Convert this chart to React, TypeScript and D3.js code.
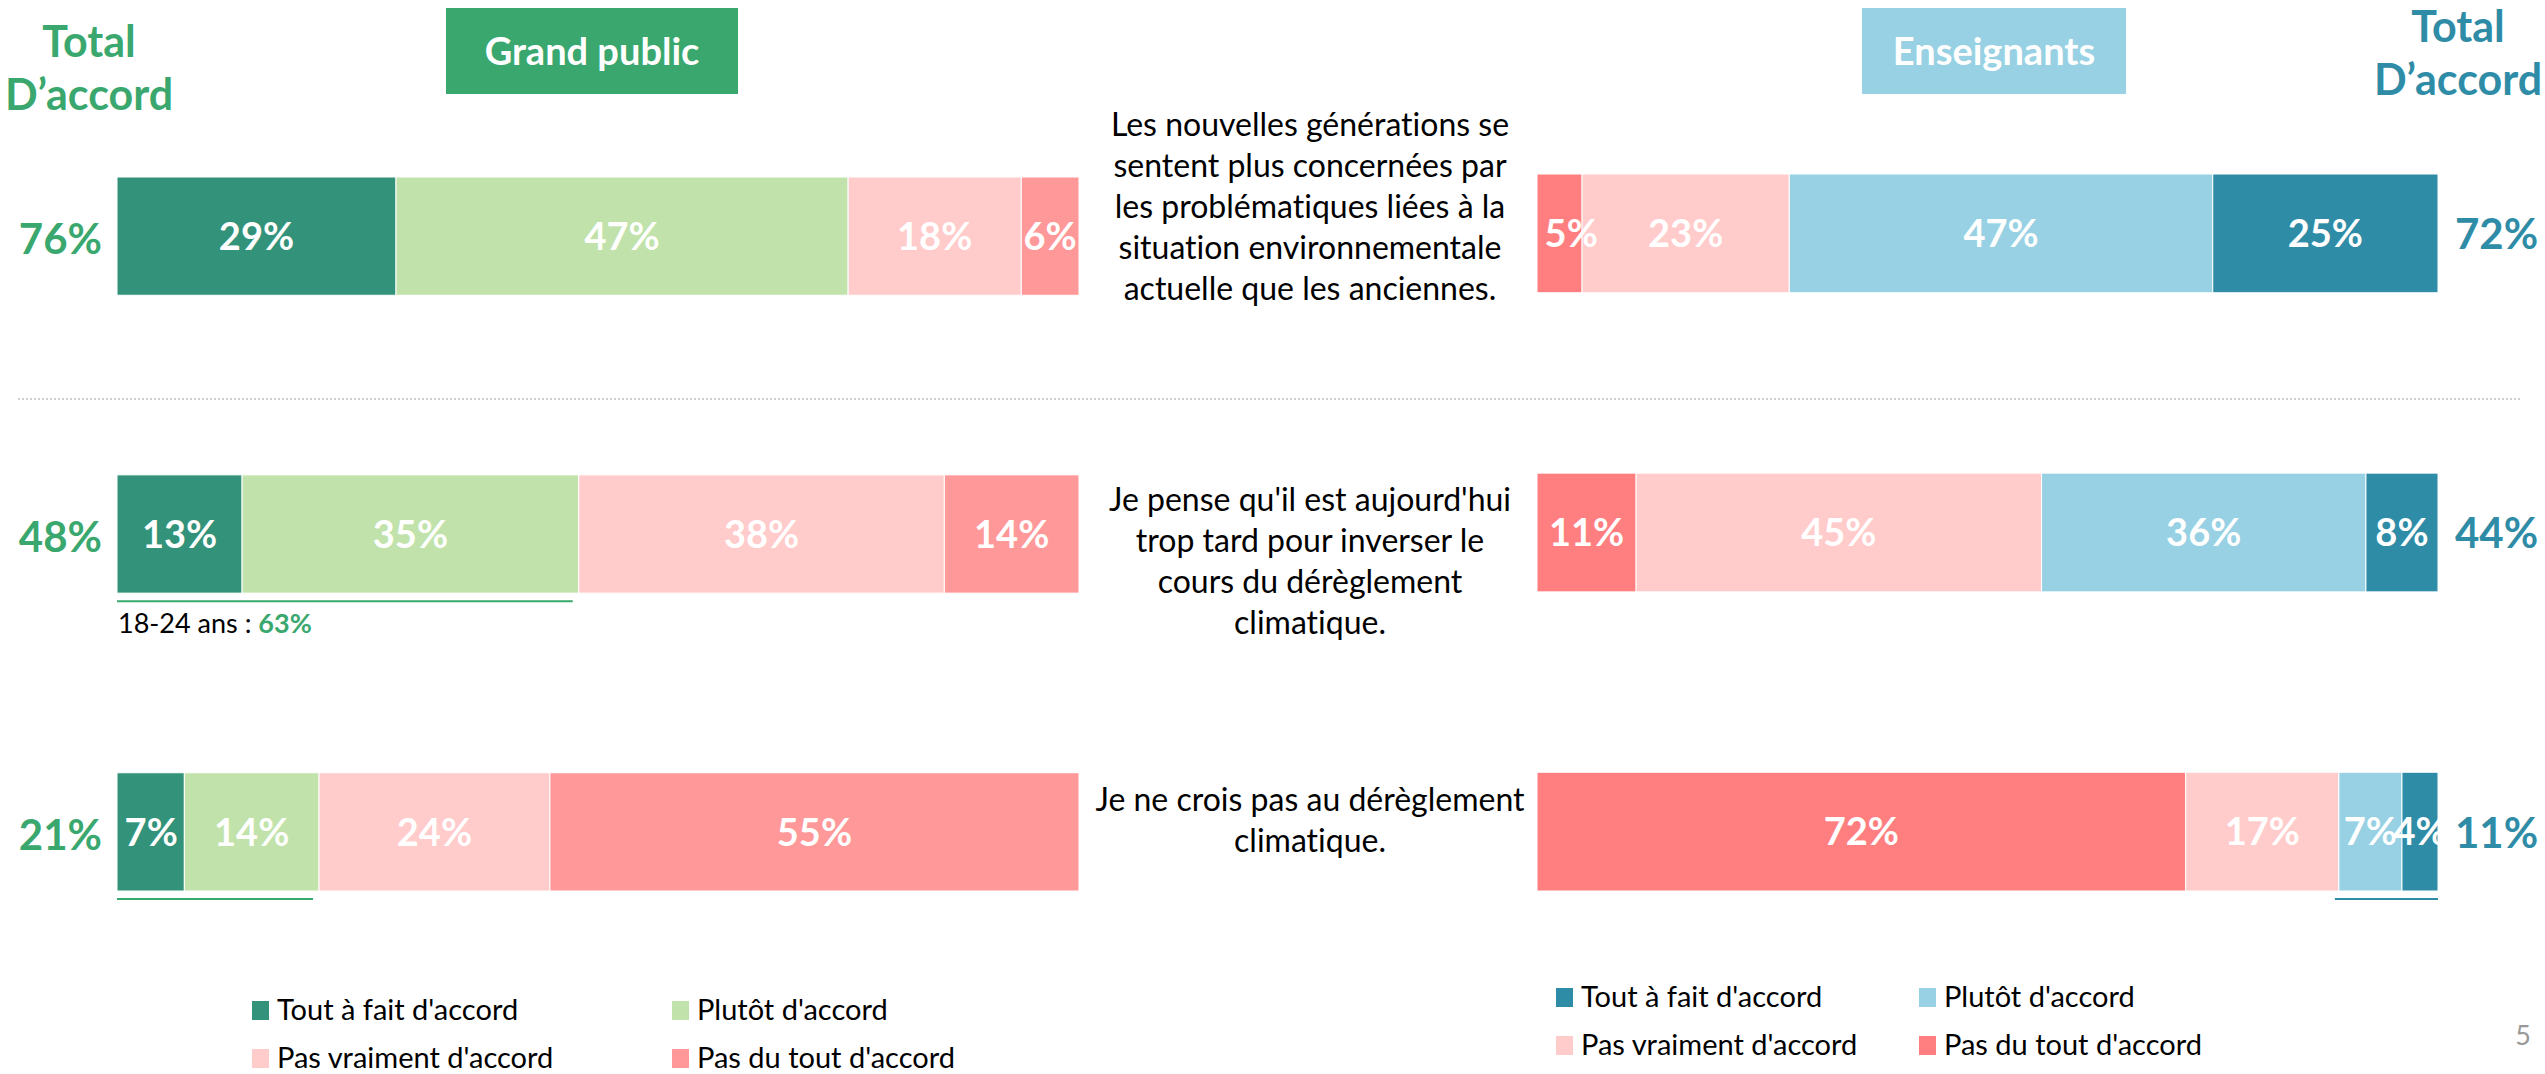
import React, { useEffect } from "react";
import * as d3 from "d3";

// ---------- DATA ----------
const questions = [
  ["Les nouvelles générations se", "sentent plus concernées par", "les problématiques liées à la", "situation environnementale", "actuelle que les anciennes."],
  ["Je pense qu'il est aujourd'hui", "trop tard pour inverser le", "cours du dérèglement", "climatique."],
  ["Je ne crois pas au dérèglement", "climatique."],
];
const questionIds = ["q1", "q2", "q3"];

// Grand public (left), order: Tout à fait, Plutôt, Pas vraiment, Pas du tout
const gpToutAFait = [29, 13, 7];
const gpPlutot = [47, 35, 14];
const gpPasVraiment = [18, 38, 24];
const gpPasDuTout = [6, 14, 55];
const gpTotal = [76, 48, 21];

// Enseignants (right), order: Pas du tout, Pas vraiment, Plutôt, Tout à fait
const ensPasDuTout = [5, 11, 72];
const ensPasVraiment = [23, 45, 17];
const ensPlutot = [47, 36, 7];
const ensToutAFait = [25, 8, 4];
const ensTotal = [72, 44, 11];

const legendLabels = ["Tout à fait d'accord", "Plutôt d'accord", "Pas vraiment d'accord", "Pas du tout d'accord"];
const gpUnderlineRows = [1, 2];
const ensUnderlineRows = [2];
const subgroupLabel = "18-24 ans : ";
const subgroupValue = "63%";

// ---------- STYLE ----------
const C = {
  green: "#3AA86E",
  darkGreen: "#32937A",
  lightGreen: "#C1E3AB",
  palePink: "#FFCBCB",
  salmon: "#FF9999",
  redPink: "#FF7F80",
  lightBlue: "#97D1E3",
  teal: "#2F8CA7",
};
const FONT = "Lato, 'Open Sans', sans-serif";
const LABEL_SIZE = 38;

export default function App() {
  useEffect(() => {
    document.body.style.margin = "0";
  }, []);

  const W = 2545, H = 1074;
  const xL = d3.scaleLinear().domain([0, 100]).range([117, 1079]);
  const xR = d3.scaleLinear().domain([0, 100]).range([1537, 2438]);
  const yL = d3.scaleBand().domain(questionIds).range([177, 891]).paddingInner(0.603);
  const yR = d3.scaleBand().domain(questionIds).range([174, 891]).paddingInner(0.603);

  const gpSeries = [
    { vals: gpToutAFait, color: C.darkGreen },
    { vals: gpPlutot, color: C.lightGreen },
    { vals: gpPasVraiment, color: C.palePink },
    { vals: gpPasDuTout, color: C.salmon },
  ];
  const ensSeries = [
    { vals: ensPasDuTout, color: C.redPink },
    { vals: ensPasVraiment, color: C.palePink },
    { vals: ensPlutot, color: C.lightBlue },
    { vals: ensToutAFait, color: C.teal },
  ];

  const stackRows = (series, x, y) => {
    const out = [];
    questionIds.forEach((id, i) => {
      let acc = 0;
      series.forEach((s, j) => {
        const v = s.vals[i];
        const x0 = x(acc), x1 = x(acc + v);
        const half = (String(v).length * 0.58 + 0.8) * LABEL_SIZE / 2;
        const lx = Math.max((x0 + x1) / 2, x(0) + half + 8);
        out.push({ key: `${id}-${j}`, x0, x1, lx, y: y(id), h: y.bandwidth(), v, color: s.color });
        acc += v;
      });
    });
    return out;
  };
  const leftSegs = stackRows(gpSeries, xL, yL);
  const rightSegs = stackRows(ensSeries, xR, yR);

  // question text layout: first-line baseline offsets relative to band top
  const qFirstBaseline = [-41, 36, 38];
  const qLineH = 41;

  const legendLeft = [C.darkGreen, C.lightGreen, C.palePink, C.salmon];
  const legendRight = [C.teal, C.lightBlue, C.palePink, C.redPink];

  return (
    <svg width={W} height={H} style={{ position: "absolute", left: 0, top: 0, background: "#fff", fontVariantLigatures: "none" }} fontFamily={FONT}>
      {/* headers */}
      <text x={89} y={57} textAnchor="middle" fontSize={43} fontWeight={700} fill={C.green}>Total</text>
      <text x={89} y={110} textAnchor="middle" fontSize={43} fontWeight={700} fill={C.green}>D’accord</text>
      <rect x={446} y={8} width={292} height={86} fill={C.green} />
      <text x={592} y={65} textAnchor="middle" fontSize={38} fontWeight={700} fill="#fff">Grand public</text>
      <rect x={1862} y={8} width={264} height={86} fill={C.lightBlue} />
      <text x={1994} y={65} textAnchor="middle" fontSize={38} fontWeight={700} fill="#fff">Enseignants</text>
      <text x={2458} y={42} textAnchor="middle" fontSize={43} fontWeight={700} fill={C.teal}>Total</text>
      <text x={2458} y={95} textAnchor="middle" fontSize={43} fontWeight={700} fill={C.teal}>D’accord</text>

      {/* separator */}
      <line x1={18} x2={2520} y1={399} y2={399} stroke="#D0D0D0" strokeWidth={2} strokeDasharray="2 2" />

      {/* bars */}
      {[...leftSegs, ...rightSegs].map((s) => (
        <rect key={"r" + s.key} x={s.x0} y={s.y} width={s.x1 - s.x0} height={s.h} fill={s.color} stroke="#fff" strokeWidth={1} />
      ))}
      {[...leftSegs, ...rightSegs].map((s) => (
        <text key={"t" + s.key} x={s.lx} y={s.y + s.h / 2} dy="0.36em" textAnchor="middle" fontSize={LABEL_SIZE} fontWeight={700} fill="#fff">
          {s.v}%
        </text>
      ))}

      {/* totals */}
      {questionIds.map((id, i) => (
        <g key={"tot" + id}>
          <text x={xL(0) - 15} y={yL(id) + yL.bandwidth() / 2} dy="0.42em" textAnchor="end" fontSize={42} fontWeight={700} fill={C.green}>
            {gpTotal[i]}%
          </text>
          <text x={xR(100) + 17} y={yR(id) + yR.bandwidth() / 2} dy="0.38em" textAnchor="start" fontSize={42} fontWeight={700} fill={C.teal}>
            {ensTotal[i]}%
          </text>
        </g>
      ))}

      {/* underlines */}
      {gpUnderlineRows.map((r) => (
        <line key={"ul" + r} x1={xL(0)} x2={xL(gpTotal[r]) - 6} y1={yL(questionIds[r]) + yL.bandwidth() + 8} y2={yL(questionIds[r]) + yL.bandwidth() + 8} stroke={C.green} strokeWidth={2} />
      ))}
      {ensUnderlineRows.map((r) => (
        <line key={"ur" + r} x1={xR(100 - ensTotal[r]) - 4} x2={xR(100)} y1={yR(questionIds[r]) + yR.bandwidth() + 8} y2={yR(questionIds[r]) + yR.bandwidth() + 8} stroke={C.teal} strokeWidth={2} />
      ))}
      <text x={xL(0) + 1} y={yL(questionIds[1]) + yL.bandwidth() + 40} fontSize={27} fill="#000">
        {subgroupLabel}
        <tspan fontWeight={700} fill={C.green}>{subgroupValue}</tspan>
      </text>

      {/* questions */}
      {questions.map((lines, i) => (
        <text key={"q" + i} textAnchor="middle" fontSize={32} fill="#000">
          {lines.map((l, k) => (
            <tspan key={k} x={1310} y={yL(questionIds[i]) + qFirstBaseline[i] + k * qLineH}>{l}</tspan>
          ))}
        </text>
      ))}

      {/* legends */}
      {legendLabels.map((lab, i) => {
        const col = i % 2, row = Math.floor(i / 2);
        const x = 252 + col * 420, y = 1001 + row * 48;
        return (
          <g key={"lgl" + i}>
            <rect x={x} y={y} width={17} height={19} fill={legendLeft[i]} />
            <text x={x + 25} y={y + 19} fontSize={29} fill="#000">{lab}</text>
          </g>
        );
      })}
      {legendLabels.map((lab, i) => {
        const col = i % 2, row = Math.floor(i / 2);
        const x = 1556 + col * 363, y = 988 + row * 48;
        return (
          <g key={"lgr" + i}>
            <rect x={x} y={y} width={17} height={19} fill={legendRight[i]} />
            <text x={x + 25} y={y + 19} fontSize={29} fill="#000">{lab}</text>
          </g>
        );
      })}

      <text x={2523} y={1045} textAnchor="middle" fontSize={27} fill="#999">5</text>
    </svg>
  );
}
